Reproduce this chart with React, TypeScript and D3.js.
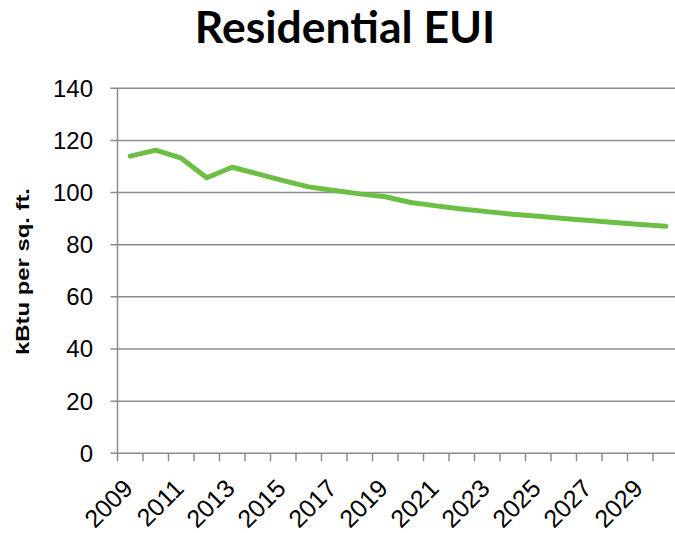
import React from "react";
import * as d3 from "d3";

const years = ["2009","2010","2011","2012","2013","2014","2015","2016","2017","2018","2019","2020","2021","2022","2023","2024","2025","2026","2027","2028","2029","2030"];
const eui = [114.0,116.3,113.2,105.7,109.7,107.2,104.6,102.2,100.8,99.5,98.4,96.2,94.9,93.7,92.7,91.7,90.9,90.1,89.3,88.5,87.8,87.1];
const yTicks = [0,20,40,60,80,100,120,140];
const xLabels = ["2009","2011","2013","2015","2017","2019","2021","2023","2025","2027","2029"];

const W = 675, H = 533;
const left = 117.5, bandW = 25.5;
const right = left + bandW * years.length;
const top = 88.3, bottom = 453.3;

export default function App() {
  const x = d3.scaleBand<string>().domain(years).range([left, right]).padding(0);
  const y = d3.scaleLinear().domain([0, 140]).range([bottom, top]);
  const line = d3.line<number>()
    .x((_, i) => (x(years[i]) as number) + x.bandwidth() / 2)
    .y((d) => y(d));
  const grid = "#8c8c8c";
  return (
    <svg width={W} height={H} style={{ position: "absolute", left: 0, top: 0, background: "#fff" }}>
      <text x={345} y={43} textAnchor="middle" fontFamily="Lato" fontWeight="bold" fontSize={44.5} fill="#000">Residential EUI</text>
      {yTicks.map((t) => (
        <g key={t}>
          <line x1={left - 7} x2={W} y1={y(t)} y2={y(t)} stroke={grid} strokeWidth={1.5} />
          <text x={93} y={y(t)} dy="0.35em" textAnchor="end" fontFamily="Liberation Sans" fontSize={24} fill="#000">{t}</text>
        </g>
      ))}
      <line x1={left} x2={left} y1={top} y2={bottom + 0} stroke={grid} strokeWidth={1.5} />
      {d3.range(years.length + 1).map((i) => (
        <line key={i} x1={left + i * bandW} x2={left + i * bandW} y1={bottom} y2={bottom + 8} stroke={grid} strokeWidth={1.5} />
      ))}
      {xLabels.map((l) => {
        const cx = (x(l) as number) + x.bandwidth() / 2 + 4;
        const ty = 490;
        return (
          <text key={l} x={cx} y={ty} textAnchor="end" transform={`rotate(-45 ${cx} ${ty})`} fontFamily="Liberation Sans" fontSize={25} fill="#000">{l}</text>
        );
      })}
      <text transform={`translate(28.5 271.5) rotate(-90)`} textAnchor="middle" fontFamily="Liberation Sans" fontWeight="bold" fontSize={18.5} textLength={167} lengthAdjust="spacingAndGlyphs" fill="#000">kBtu per sq. ft.</text>
      <path d={line(eui) || ""} fill="none" stroke="#6CBF44" strokeWidth={5} strokeLinejoin="round" strokeLinecap="round" />
    </svg>
  );
}
